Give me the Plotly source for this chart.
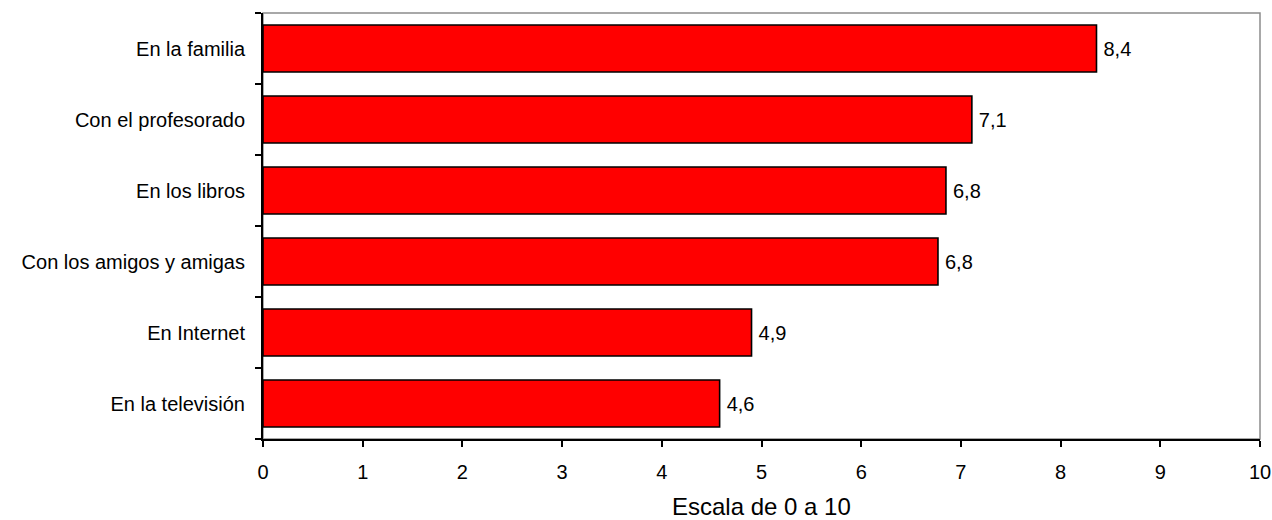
import plotly.graph_objects as go

categories = ["En la familia", "Con el profesorado", "En los libros",
              "Con los amigos y amigas", "En Internet", "En la televisión"]
values = [8.36, 7.11, 6.85, 6.77, 4.90, 4.58]
x_ticks = [0, 1, 2, 3, 4, 5, 6, 7, 8, 9, 10]
x_title = "Escala de 0 a 10"

font_family = "Liberation Sans, Arial, sans-serif"
W, H = 1272, 520
M = dict(l=263, r=12, t=13, b=81)
plot_h = H - M["t"] - M["b"]

fig = go.Figure()
fig.add_trace(go.Bar(
    y=categories,
    x=values,
    orientation="h",
    marker=dict(color="#ff0000", line=dict(color="#000000", width=1.6)),
    texttemplate="\u2009%{x:.1f}",
    textposition="outside",
    textfont=dict(family=font_family, size=20, color="#000000"),
    cliponaxis=False,
))

fig.update_layout(
    width=W, height=H,
    margin=M,
    paper_bgcolor="white",
    plot_bgcolor="white",
    separators=",.",
    bargap=0.34,
    showlegend=False,
    font=dict(family=font_family, size=20, color="#000000"),
    shapes=[dict(type="rect", xref="paper", yref="paper", x0=0, x1=1, y0=0, y1=1,
                 line=dict(color="#8c8c8c", width=1.5), layer="below")],
    annotations=[dict(text=x_title, xref="paper", yref="paper", x=0.5,
                      y=-67 / plot_h, xanchor="center", yanchor="middle",
                      showarrow=False, borderpad=0,
                      font=dict(size=24, color="#000000"))],
)

fig.update_xaxes(
    range=[0, 10],
    tickvals=x_ticks,
    ticks="outside", ticklen=6, tickwidth=2, tickcolor="#000000",
    showline=True, linecolor="#000000", linewidth=2,
    showgrid=False, zeroline=False,
    tickfont=dict(size=20),
    ticklabelstandoff=8,
    ticklabeloverflow="allow",
    automargin=False,
)

fig.update_yaxes(
    categoryorder="array",
    categoryarray=categories[::-1],
    ticks="outside", ticklen=6, tickwidth=2, tickcolor="#000000",
    tickson="boundaries",
    showline=True, linecolor="#000000", linewidth=2,
    showgrid=False, zeroline=False,
    tickfont=dict(size=20),
    ticklabelstandoff=12,
    automargin=False,
)

# remove the default 8px page margin so the figure fills the 1272x520 window
fig.write_html("out.html",
               config={"displayModeBar": False},
               post_script="document.body.style.margin='0';")
